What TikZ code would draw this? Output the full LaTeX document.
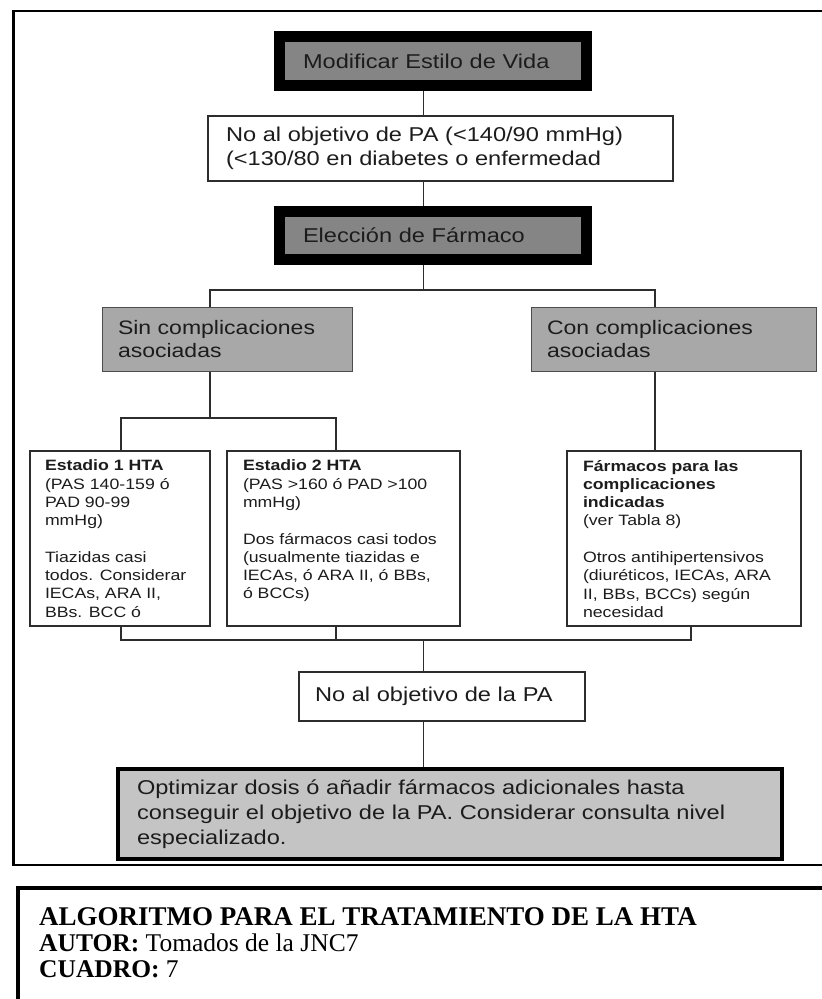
\documentclass[tikz,border=0pt]{standalone}
\usepackage{fontspec}
\setmainfont{Liberation Serif}
\newfontfamily\arw[FakeStretch=1.18]{Liberation Sans}
\definecolor{boxdark}{RGB}{133,133,133}
\definecolor{boxmid}{RGB}{168,168,168}
\definecolor{boxlight}{RGB}{196,196,196}
\definecolor{ink}{RGB}{28,28,28}
\definecolor{linec}{RGB}{45,45,45}
\newcommand\smalltxt[2]{\parbox[c][157pt][t]{#1}{\raggedright #2}}
\begin{document}
\begin{tikzpicture}[x=1pt,y=-1pt,
  conn/.style={draw=linec, line width=1.4pt},
  heavybox/.style={draw=black, line width=11pt, fill=boxdark, text=ink,
    font=\arw\fontsize{20}{24}\selectfont, align=left, inner ysep=0pt},
  plainbox/.style={draw=linec, line width=1.2pt, fill=white, text=ink,
    font=\arw\fontsize{20}{24}\selectfont, align=left, inner ysep=0pt},
  greybox/.style={draw=black!70, line width=1pt, fill=boxmid, text=ink,
    font=\arw\fontsize{19.5}{23}\selectfont, align=left, inner ysep=0pt},
  smallbox/.style={draw=linec, line width=1.1pt, fill=white, text=ink,
    font=\arw\fontsize{15}{18.3}\selectfont, inner ysep=9pt, minimum height=175pt},
  finalbox/.style={draw=black, line width=4.5pt, fill=boxlight, text=ink,
    font=\arw\fontsize{20}{25}\selectfont, align=left, inner ysep=0pt},
  frameline/.style={draw=black, line width=2.5pt},
  captxt/.style={anchor=base west, inner sep=0pt, text=black}
]
\useasboundingbox (0,0) rectangle (822,999);
\clip (0,0) rectangle (822,999);

% outer frames
\draw[frameline] (840,11) -- (13.5,11) -- (13.5,865) -- (840,865);
\draw[draw=black, line width=3.5pt] (840,888) -- (18,888) -- (18,1010);

% nodes
\node[heavybox, text width=260pt, inner xsep=23.5pt, minimum height=49pt] (box1) at (433,61) {Modificar Estilo de Vida};
\node[plainbox, text width=429pt, inner xsep=18pt, minimum height=65pt] (box2) at (440.5,148.5) {No al objetivo de PA (<140/90 mmHg)\\(<130/80 en diabetes o enfermedad};
\node[heavybox, text width=260pt, inner xsep=23.5pt, minimum height=48pt] (box3) at (433,235.5) {Elección de Fármaco};

\node[greybox, text width=218pt, inner xsep=16pt, minimum height=64pt] (sin) at (227,339) {Sin complicaciones\\asociadas};
\node[greybox, text width=253pt, inner xsep=16pt, minimum height=64pt] (con) at (673.5,339) {Con complicaciones\\asociadas};

\node[smallbox, inner xsep=15pt] (st1) at (120,538.5) {\smalltxt{150pt}{\textbf{Estadio 1 HTA}\\(PAS 140-159 ó\\PAD 90-99\\mmHg)\\[18.3pt]Tiazidas casi\\todos. Considerar\\IECAs, ARA II,\\BBs. BCC ó}};
\node[smallbox, inner xsep=16pt] (st2) at (343.5,538.5) {\smalltxt{201pt}{\textbf{Estadio 2 HTA}\\(PAS >160 ó PAD >100\\mmHg)\\[18.3pt]Dos fármacos casi todos\\(usualmente tiazidas e\\IECAs, ó ARA II, ó BBs,\\ó BCCs)}};
\node[smallbox, inner xsep=16pt] (farm) at (684,538.5) {\smalltxt{202pt}{\textbf{Fármacos para las}\\\textbf{complicaciones}\\\textbf{indicadas}\\(ver Tabla 8)\\[18.3pt]Otros antihipertensivos\\(diuréticos, IECAs, ARA\\II, BBs, BCCs) según\\necesidad}};

\node[plainbox, text width=254pt, inner xsep=16pt, minimum height=49pt] (noobj) at (442,696.5) {No al objetivo de la PA};
\node[finalbox, text width=626pt, inner xsep=19pt, minimum height=90pt] (final) at (450,814) {Optimizar dosis ó añadir fármacos adicionales hasta\\conseguir el objetivo de la PA. Considerar consulta nivel\\especializado.};

% caption
\node[captxt, font=\bfseries\fontsize{27}{27}\selectfont] (cap1) at (39,925) {ALGORITMO PARA EL TRATAMIENTO DE LA HTA};
\node[captxt, font=\fontsize{25.5}{26}\selectfont] (cap2) at (39,951) {\textbf{AUTOR:} Tomados de la JNC7};
\node[captxt, font=\fontsize{25.5}{26}\selectfont] (cap3) at (39,977) {\textbf{CUADRO:} 7};

% junction coordinates
\coordinate (ax) at (423.5,0);
\coordinate (j1) at (423.5,290);
\coordinate (sinx) at (210,0);
\coordinate (conx) at (655,0);
\coordinate (j2) at (210,418);
\coordinate (s1x) at (121,0);
\coordinate (s2x) at (336,0);
\coordinate (fx) at (691,0);
\coordinate (j3) at (423.5,640);
\coordinate (b2) at (336,640);

% connectors
\draw[conn] (box1.south -| ax) -- (box2.north -| ax);
\draw[conn] (box2.south -| ax) -- (box3.north -| ax);
\draw[conn] (box3.south -| ax) -- (j1);
\draw[conn] (sin.north -| sinx) |- (j1) -| (con.north -| conx);
\draw[conn] (sin.south -| sinx) -- (j2);
\draw[conn] (st1.north -| s1x) |- (j2) -| (st2.north -| s2x);
\draw[conn] (con.south -| conx) -- (farm.north -| conx);
\draw[conn] (st1.south -| s1x) |- (j3) -| (farm.south -| fx);
\draw[conn] (st2.south -| s2x) -- (b2);
\draw[conn] (j3) -- (noobj.north -| ax);
\draw[conn] (noobj.south -| ax) -- (final.north -| ax);
\end{tikzpicture}
\end{document}
